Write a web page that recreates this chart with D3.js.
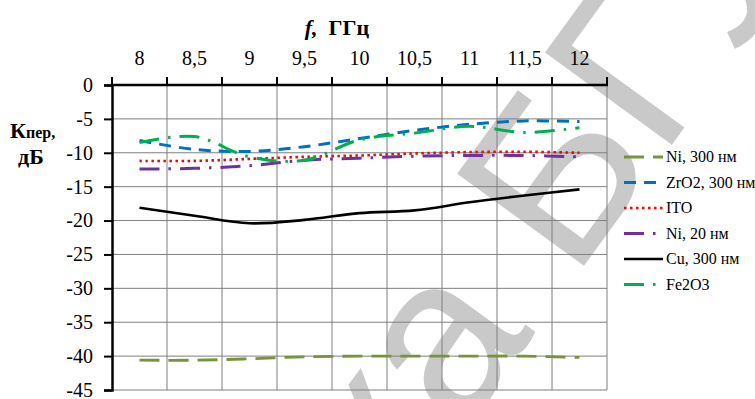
<!DOCTYPE html>
<html>
<head>
<meta charset="utf-8">
<script src="https://cdn.jsdelivr.net/npm/d3@7/dist/d3.min.js"></script>
<style>
  body { margin: 0; background: #fff; }
  svg { display: block; }
</style>
</head>
<body>
<div id="chart"></div>
<script>
// frequency categories (GHz) and transmission coefficient, dB
var freqs = ["8", "8,5", "9", "9,5", "10", "10,5", "11", "11,5", "12"];
var ni300 = [-40.6, -40.6, -40.4, -40.1, -40.0, -40.0, -40.0, -40.0, -40.2];
var zro2  = [-8.2, -9.5, -9.8, -9.1, -7.9, -6.7, -5.8, -5.3, -5.4];
var ito   = [-11.2, -11.2, -10.9, -10.6, -10.4, -10.1, -9.9, -9.85, -10.0];
var ni20  = [-12.4, -12.3, -11.9, -11.1, -10.8, -10.5, -10.4, -10.4, -10.6];
var cu    = [-18.1, -19.3, -20.4, -19.9, -18.9, -18.5, -17.3, -16.3, -15.4];
var fe2o3 = [-8.5, -7.6, -10.6, -11.1, -8.1, -7.1, -6.1, -7.0, -6.3];
var seriesNames = ["Ni, 300 нм", "ZrO2, 300 нм", "ITO", "Ni, 20 нм", "Cu, 300 нм", "Fe2O3"];
var yTicks = [0, -5, -10, -15, -20, -25, -30, -35, -40, -45];

var series = [ni300, zro2, ito, ni20, cu, fe2o3];
var colors = ["#77933C", "#0070C0", "#FF0000", "#7030A0", "#000000", "#00B050"];
var dashes = ["20,9", "12,8", "2.5,3.5", "20,9,2.5,9", null, "20,9,2.5,9"];
var widths = [2.8, 3, 2.6, 3, 2.6, 3];

var width = 755, height = 399;
var serif = "'Times New Roman', serif";

var svg = d3.select("#chart").append("svg")
  .attr("width", width)
  .attr("height", height);

// library watermark, drawn under the chart
var wmG = svg.append("g");
var wm = wmG.append("text")
  .text("Библиотека БГУИР")
  .style("font-family", "sans-serif")
  .style("font-size", "228px")
  .attr("fill", "#c9c9c9");
var bb = wm.node().getExtentOfChar(11);//position the big "Б"
wmG.attr("transform", "translate(553,174) rotate(-54) translate(" + (-(bb.x + bb.width / 2)) + "," + (-(bb.y + bb.height / 2)) + ")");

var x = d3.scaleBand().domain(freqs).range([112, 607]);
var y = d3.scaleLinear().domain([-45, 0]).range([390, 85]);

// grid
svg.append("g").selectAll("line")
  .data(yTicks.slice(1))
  .enter().append("line")
    .attr("x1", 112).attr("x2", 607)
    .attr("y1", function(d) { return y(d); })
    .attr("y2", function(d) { return y(d); })
    .attr("stroke", "#7f7f7f").attr("stroke-width", 1);

var bounds = freqs.map(function(f) { return x(f); }).concat([x.range()[1]]);
svg.append("g").selectAll("line")
  .data(bounds.slice(1))
  .enter().append("line")
    .attr("x1", function(d) { return d; })
    .attr("x2", function(d) { return d; })
    .attr("y1", y(0)).attr("y2", y(-45))
    .attr("stroke", "#7f7f7f").attr("stroke-width", 1);

// y axis
var yAxis = svg.append("g")
  .attr("transform", "translate(112,0)")
  .call(d3.axisLeft(y).tickValues(yTicks).tickSize(8).tickPadding(11).tickFormat(function(d) { return String(d); }));
yAxis.attr("font-family", null).attr("font-size", null);
yAxis.select(".domain").attr("stroke-width", 2.5).attr("stroke", "#000");
yAxis.selectAll(".tick line").attr("stroke-width", 2);
yAxis.selectAll("text").style("font-family", serif).style("font-size", "20px").attr("fill", "#000");

// x axis on top, labels centred in the bands
var xAxis = svg.append("g")
  .attr("transform", "translate(0," + y(0) + ")")
  .call(d3.axisTop(x).tickSize(0).tickPadding(20));
xAxis.attr("font-family", null).attr("font-size", null);
xAxis.select(".domain").remove();
xAxis.selectAll("text").style("font-family", serif).style("font-size", "20px").attr("fill", "#000");

svg.append("line")
  .attr("x1", 111).attr("x2", 608)
  .attr("y1", y(0)).attr("y2", y(0))
  .attr("stroke", "#000").attr("stroke-width", 2.5);
svg.append("g").selectAll("line")
  .data(bounds)
  .enter().append("line")
    .attr("x1", function(d) { return d; })
    .attr("x2", function(d) { return d; })
    .attr("y1", y(0) - 8).attr("y2", y(0))
    .attr("stroke", "#000").attr("stroke-width", 2);

// axis titles
var xt = svg.append("text")
  .attr("x", 337).attr("y", 35)
  .attr("text-anchor", "middle")
  .style("font-family", serif).style("font-size", "22px").style("font-weight", "bold");
xt.append("tspan").style("font-style", "italic").text("f,");
xt.append("tspan").text("\u00a0 ГГц");

var yt = svg.append("text")
  .attr("x", 10).attr("y", 138)
  .style("font-family", serif).style("font-weight", "bold");
yt.append("tspan").style("font-size", "22px").text("К");
yt.append("tspan").style("font-size", "16px").text("пер,");
svg.append("text")
  .attr("x", 18).attr("y", 164)
  .style("font-family", serif).style("font-weight", "bold").style("font-size", "22px")
  .text("дБ");

// data lines
var line = d3.line()
  .x(function(d, i) { return x(freqs[i]) + x.bandwidth() / 2; })
  .y(function(d) { return y(d); })
  .curve(d3.curveCatmullRom.alpha(0.5));

svg.append("g").selectAll("path")
  .data(series)
  .enter().append("path")
    .attr("d", line)
    .attr("fill", "none")
    .attr("stroke", function(d, i) { return colors[i]; })
    .attr("stroke-width", function(d, i) { return widths[i]; })
    .attr("stroke-dasharray", function(d, i) { return dashes[i]; });

// legend
var leg = svg.append("g").selectAll("g")
  .data(seriesNames)
  .enter().append("g")
    .attr("transform", function(d, i) { return "translate(624," + (157 + i * 25.5) + ")"; });
leg.append("line")
  .attr("x1", 0).attr("x2", 39)
  .attr("stroke", function(d, i) { return colors[i]; })
  .attr("stroke-width", function(d, i) { return widths[i]; })
  .attr("stroke-dasharray", function(d, i) { return dashes[i]; });
leg.append("text")
  .attr("x", 42).attr("y", 5)
  .style("font-family", serif).style("font-size", "16px")
  .text(function(d) { return d; });
</script>
</body>
</html>
